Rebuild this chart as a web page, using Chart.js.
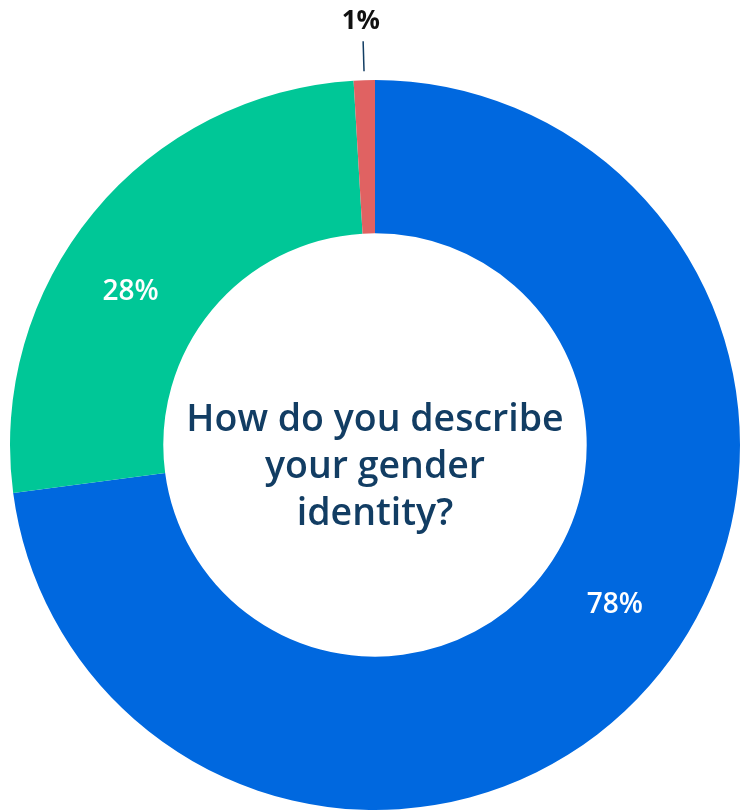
<!DOCTYPE html>
<html>
<head>
<meta charset="utf-8">
<script src="https://cdn.jsdelivr.net/npm/chart.js@4/dist/chart.umd.min.js"></script>
<style>
  html, body { margin: 0; padding: 0; background: #ffffff; }
  #wrap { width: 740px; height: 811px; position: relative; }
</style>
</head>
<body>
<div id="wrap"><canvas id="chart"></canvas></div>
<script>
// Survey answers, in clockwise order from the top
const categories = ['Man', 'Woman', 'Other'];
const shares = [78, 28, 1];
const sliceLabels = ['78%', '28%', '1%'];
const sliceColors = ['#0068DF', '#00C797', '#E06262'];
const centerLines = ['How do you describe', 'your gender', 'identity?'];

const FONT = '"Open Sans", "Noto Sans", sans-serif';
const NAVY = '#123D63';

// Percent labels: inside the ring for large slices, outside with a leader line for tiny ones
const sliceLabelPlugin = {
  id: 'sliceLabels',
  afterDatasetsDraw(chart) {
    const ctx = chart.ctx;
    const meta = chart.getDatasetMeta(0);
    meta.data.forEach((arc, i) => {
      const p = arc.getProps(['x', 'y', 'startAngle', 'endAngle', 'innerRadius', 'outerRadius'], true);
      const mid = (p.startAngle + p.endAngle) / 2;
      const span = p.endAngle - p.startAngle;
      ctx.save();
      if (span > 0.3) {
        // pull inner labels slightly back toward the start of their slice
        const a = mid - 7.5 * Math.PI / 180;
        const r = (p.innerRadius + p.outerRadius) / 2;
        ctx.fillStyle = '#ffffff';
        ctx.font = '600 28px ' + FONT;
        ctx.textAlign = 'center';
        ctx.textBaseline = 'middle';
        ctx.fillText(sliceLabels[i], p.x + Math.cos(a) * r, p.y + Math.sin(a) * r);
      } else {
        const r1 = p.outerRadius + 9;
        const r2 = p.outerRadius + 39;
        ctx.strokeStyle = NAVY;
        ctx.lineWidth = 1.5;
        ctx.beginPath();
        ctx.moveTo(p.x + Math.cos(mid) * r1, p.y + Math.sin(mid) * r1);
        ctx.lineTo(p.x + Math.cos(mid) * r2, p.y + Math.sin(mid) * r2);
        ctx.stroke();
        ctx.fillStyle = '#111111';
        ctx.font = '700 26px ' + FONT;
        ctx.textAlign = 'center';
        ctx.textBaseline = 'alphabetic';
        const r3 = p.outerRadius + 51;
        ctx.fillText(sliceLabels[i], p.x + Math.cos(mid) * r3 - 2, p.y + Math.sin(mid) * r3);
      }
      ctx.restore();
    });
  }
};

// Question text in the hole of the doughnut
const centerTextPlugin = {
  id: 'centerText',
  afterDatasetsDraw(chart) {
    const ctx = chart.ctx;
    const arc = chart.getDatasetMeta(0).data[0];
    const cx = arc.x, cy = arc.y;
    const lineH = 47;
    ctx.save();
    ctx.fillStyle = NAVY;
    ctx.font = '600 37.5px ' + FONT;
    ctx.textAlign = 'center';
    ctx.textBaseline = 'middle';
    const top = cy - lineH * (centerLines.length - 1) / 2 + 22;
    centerLines.forEach((t, i) => ctx.fillText(t, cx, top + i * lineH));
    ctx.restore();
  }
};

new Chart(document.getElementById('chart'), {
  type: 'doughnut',
  data: {
    labels: categories,
    datasets: [{
      data: shares,
      backgroundColor: sliceColors,
      borderWidth: 0,
      hoverOffset: 0
    }]
  },
  options: {
    responsive: true,
    maintainAspectRatio: false,
    animation: false,
    cutout: '58%',
    layout: { padding: { top: 80, bottom: 1, left: 10, right: 0 } },
    plugins: {
      legend: { display: false },
      tooltip: { enabled: false }
    }
  },
  plugins: [sliceLabelPlugin, centerTextPlugin]
});
</script>
</body>
</html>
